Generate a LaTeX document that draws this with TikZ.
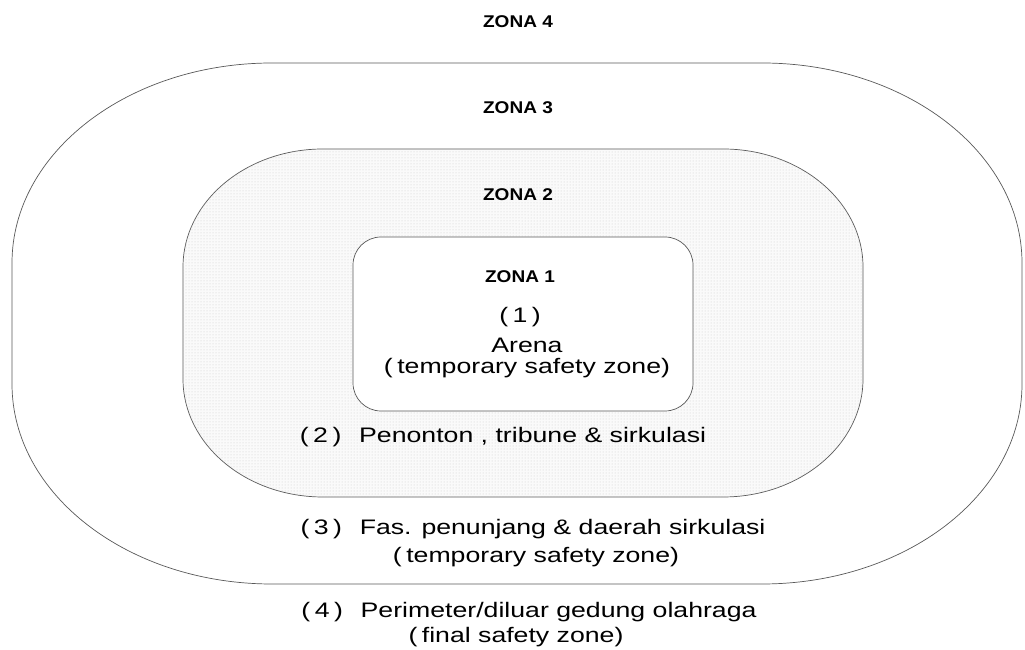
\documentclass[tikz,border=0pt]{standalone}
\usepackage{fontspec}
\setmainfont{Liberation Sans}
\usetikzlibrary{patterns}
\begin{document}
\begin{tikzpicture}[x=1pt,y=1pt,
  zoneline/.style={draw=black!65, line width=0.7pt},
  zonetitle/.style={font=\bfseries\fontsize{17}{20}\selectfont, xscale=1.12, inner sep=0pt},
  bodytext/.style={font=\fontsize{21}{24}\selectfont, xscale=1.27, inner sep=0pt, align=center}]
\useasboundingbox (0,0) rectangle (1025,650);
% Zone 3 outer
\path[zoneline, fill=white] (272,587) -- (762,587)
  arc[start angle=90, end angle=0, x radius=260, y radius=200] -- (1022,266)
  arc[start angle=0, end angle=-90, x radius=260, y radius=200] -- (272,66)
  arc[start angle=-90, end angle=-180, x radius=260, y radius=200] -- (12,387)
  arc[start angle=180, end angle=90, x radius=260, y radius=200] -- cycle;
% Zone 2
\path[zoneline, fill=black!2] (323,501) -- (723,501)
  arc[start angle=90, end angle=0, x radius=140, y radius=118] -- (863,271)
  arc[start angle=0, end angle=-90, x radius=140, y radius=118] -- (323,153)
  arc[start angle=-90, end angle=-180, x radius=140, y radius=118] -- (183,383)
  arc[start angle=180, end angle=90, x radius=140, y radius=118] -- cycle;
\path[pattern=dots, pattern color=black!20] (323,501) -- (723,501)
  arc[start angle=90, end angle=0, x radius=140, y radius=118] -- (863,271)
  arc[start angle=0, end angle=-90, x radius=140, y radius=118] -- (323,153)
  arc[start angle=-90, end angle=-180, x radius=140, y radius=118] -- (183,383)
  arc[start angle=180, end angle=90, x radius=140, y radius=118] -- cycle;
% Zone 1
\path[zoneline, fill=white, rounded corners=28] (353,239) rectangle (693,413);
% Labels
\node[zonetitle] (z4) at (518,628) {ZONA 4};
\node[zonetitle] (z3) at (518,542) {ZONA 3};
\node[zonetitle] (z2) at (518,455) {ZONA 2};
\node[zonetitle] (z1) at (520,373) {ZONA 1};
\node[bodytext] (n1) at (520,333) {(\,1\,)};
\node[bodytext] (arena) at (527,305) {Arena};
\node[bodytext] (t1) at (527,282) {(\,temporary safety zone)};
\node[bodytext] (l2) at (503,213) {(\,2\,)\enspace\thinspace Penonton , tribune \& sirkulasi};
\node[bodytext] (l3) at (533,121) {(\,3\,)\enspace\thinspace Fas. penunjang \& daerah sirkulasi};
\node[bodytext] (t3) at (536,93) {(\,temporary safety zone)};
\node[bodytext] (l4) at (529,38) {(\,4\,)\enspace\thinspace Perimeter/diluar gedung olahraga};
\node[bodytext] (t4) at (516,13) {(\,final safety zone)};
\end{tikzpicture}
\end{document}
